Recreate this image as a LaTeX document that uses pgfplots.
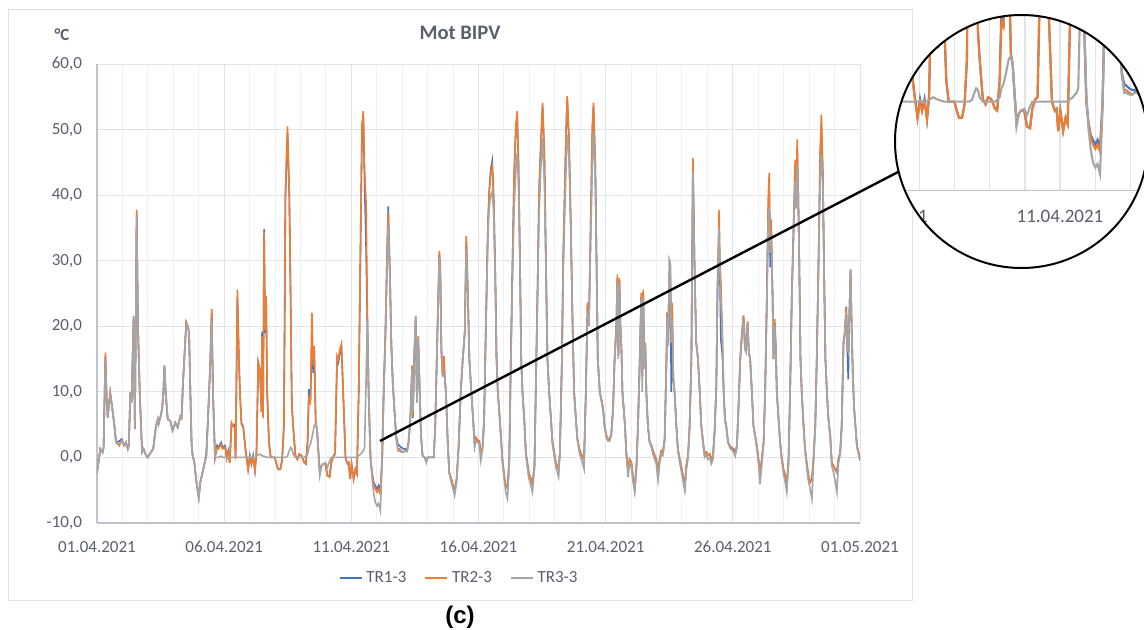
\documentclass[border=0pt]{standalone}
\usepackage{pgfplots}
\pgfplotsset{compat=1.18}
\usepackage{pgfplotstable}
\usepackage{fontspec}
\setmainfont{Carlito}
\newfontfamily\arialfont{Liberation Sans}
\definecolor{tr1}{HTML}{4472C4}
\definecolor{tr2}{HTML}{ED7D31}
\definecolor{tr3}{HTML}{A5A5A5}
\definecolor{txt}{HTML}{595F6B}
\definecolor{gridc}{HTML}{E2E4E9}
\definecolor{gridm}{HTML}{F0F1F4}
\definecolor{axc}{HTML}{BFC4CC}

\pgfplotstableread{
d a b c
0.00 -0.3 -0.3 -0.3
0.03 -1.5 -1.5 -1.5
0.13 1.3 1.3 1.3
0.22 0.8 0.8 0.8
0.26 1.5 1.5 1.5
0.33 15.5 16.0 15.0
0.38 9.0 9.0 9.0
0.42 6.1 6.1 6.1
0.52 9.9 9.9 9.5
0.62 6.9 6.9 6.9
0.68 5.0 5.0 5.0
0.75 2.3 2.3 2.3
0.88 2.5 1.8 2.1
0.97 2.8 2.6 2.5
1.07 1.8 1.8 1.8
1.14 2.3 2.3 2.3
1.21 1.3 1.3 1.3
1.25 1.8 1.8 1.8
1.31 9.9 9.9 9.9
1.36 8.4 8.4 8.4
1.44 21.6 21.0 21.6
1.49 4.3 4.3 4.3
1.56 37.0 37.8 36.8
1.61 20.0 20.0 20.0
1.68 9.9 9.9 9.9
1.77 1.3 0.8 0.8
1.83 1.3 1.3 1.3
1.93 0.3 0.3 0.3
1.99 0.0 0.0 0.0
2.12 0.8 0.8 0.8
2.21 1.3 1.3 1.3
2.32 4.8 4.8 4.8
2.39 5.8 5.8 5.8
2.42 5.1 5.1 5.1
2.49 6.1 6.1 6.1
2.56 7.4 7.4 7.4
2.61 9.9 9.9 9.9
2.65 14.0 14.0 14.0
2.70 9.9 9.9 9.9
2.78 5.8 5.8 5.8
2.88 5.6 5.6 5.6
2.97 4.1 4.1 4.1
3.08 5.3 5.3 5.3
3.17 4.6 4.6 4.6
3.28 6.3 6.3 6.3
3.33 6.5 6.0 6.0
3.38 11.4 11.4 11.4
3.46 17.0 17.0 17.0
3.51 20.6 20.6 20.3
3.57 20.0 20.0 20.0
3.62 19.0 19.0 19.0
3.67 10.0 10.0 10.0
3.72 2.0 2.0 2.0
3.76 0.3 0.3 0.3
3.83 -0.8 -0.8 -0.8
3.91 -3.8 -3.8 -3.8
4.00 -6.1 -6.1 -6.1
4.06 -3.8 -3.8 -3.8
4.15 -2.3 -2.3 -2.3
4.25 -0.5 -0.5 -0.5
4.30 0.8 0.3 0.0
4.38 7.4 7.4 7.4
4.45 14.0 14.0 14.0
4.51 22.0 22.6 20.8
4.56 9.9 9.9 9.9
4.64 0.0 0.0 0.0
4.72 1.8 1.5 0.0
4.77 1.5 1.3 0.0
4.88 2.3 2.0 0.2
4.94 1.5 1.3 0.0
5.03 1.8 1.5 0.0
5.05 1.5 1.3 0.0
5.10 0.0 -0.2 0.0
5.16 1.0 0.8 0.0
5.22 -0.8 -0.8 0.0
5.29 5.1 5.3 0.0
5.35 4.8 4.8 0.0
5.41 5.0 4.6 0.0
5.45 0.0 -0.3 0.0
5.52 24.5 25.6 0.0
5.58 15.0 15.0 0.0
5.62 9.9 9.9 0.0
5.68 5.1 5.3 0.0
5.75 4.6 4.8 0.0
5.84 1.3 1.0 0.0
5.94 -1.8 -1.8 0.0
6.01 0.3 0.0 0.1
6.07 -1.0 -1.0 0.0
6.14 0.3 0.0 0.0
6.21 -2.0 -2.0 0.0
6.27 0.5 0.8 0.2
6.34 14.5 14.5 0.4
6.40 13.5 13.5 0.5
6.47 6.9 6.9 0.3
6.49 19.2 18.5 0.3
6.53 6.3 6.0 0.2
6.57 34.8 34.3 0.2
6.61 19.0 19.5 0.1
6.65 24.0 24.6 0.1
6.69 9.9 10.5 0.0
6.76 2.3 2.5 0.0
6.83 0.0 0.0 0.0
6.99 0.0 0.0 0.0
7.06 -1.0 -1.0 0.0
7.12 -1.8 -1.8 0.0
7.21 -1.8 -1.8 0.0
7.28 -0.3 -0.3 0.0
7.35 4.8 5.0 0.0
7.41 40.0 40.5 0.0
7.49 49.5 50.5 0.2
7.56 40.0 40.5 1.0
7.61 25.0 25.0 1.5
7.66 8.0 8.0 1.3
7.71 4.8 5.0 0.5
7.80 0.3 0.3 0.0
7.88 -0.3 -0.3 0.0
7.95 0.5 0.5 0.0
8.04 0.3 0.3 0.0
8.15 -0.8 -0.8 0.0
8.21 -1.0 -1.0 0.2
8.28 2.3 2.3 0.5
8.33 10.4 9.0 1.5
8.39 8.4 8.4 2.0
8.45 18.0 22.1 3.0
8.50 12.9 14.0 4.0
8.54 16.5 17.0 4.8
8.60 5.1 5.5 5.1
8.65 4.3 4.3 4.3
8.69 1.8 1.8 1.8
8.76 -2.3 -2.3 -2.8
8.83 -1.3 -1.3 -1.3
8.89 -1.0 -1.0 -1.0
8.98 -1.0 -1.0 -0.8
9.06 -2.8 -2.8 -1.5
9.15 -2.8 -3.0 -0.5
9.21 -0.8 -0.8 0.0
9.30 0.3 0.3 0.0
9.36 0.5 0.5 0.0
9.44 15.0 15.5 0.0
9.49 14.5 15.0 0.0
9.55 16.0 16.5 0.0
9.61 17.0 17.3 0.0
9.68 9.9 9.9 0.0
9.77 0.0 0.0 0.0
9.85 -1.0 -1.0 0.0
9.90 -0.8 -0.8 0.0
9.95 -3.3 -3.3 0.0
10.01 -1.0 -1.0 0.0
10.09 -3.3 -3.3 0.0
10.16 -1.8 -1.8 0.0
10.22 -2.5 -2.5 0.0
10.29 9.9 9.9 0.3
10.37 35.0 35.0 0.5
10.42 50.5 50.5 0.8
10.47 52.0 52.8 1.0
10.52 42.0 44.0 1.5
10.58 32.0 38.8 12.0
10.63 20.0 22.0 21.0
10.68 9.9 9.9 10.0
10.75 0.0 0.0 1.0
10.81 -2.3 -2.3 -3.0
10.88 -3.8 -4.1 -5.5
10.94 -4.3 -4.8 -6.8
11.01 -4.8 -5.3 -7.4
11.07 -4.3 -4.8 -7.0
11.14 -5.3 -5.6 -8.1
11.21 -0.3 -0.3 -1.0
11.27 9.9 9.9 9.0
11.34 19.0 19.0 18.0
11.40 30.0 30.0 28.0
11.45 38.3 37.3 35.3
11.52 27.5 27.5 27.0
11.57 17.5 17.5 17.5
11.63 11.4 11.4 11.4
11.70 6.9 6.9 6.9
11.76 3.3 3.3 3.0
11.83 2.0 1.3 1.0
11.89 1.8 1.3 1.0
11.97 1.5 1.0 0.8
12.06 1.3 0.8 0.8
12.12 1.3 1.0 1.0
12.19 1.0 1.0 1.0
12.25 2.3 2.3 2.3
12.32 5.8 5.8 5.8
12.39 14.0 14.0 13.5
12.42 6.0 6.3 7.0
12.48 16.0 16.5 16.0
12.53 21.0 21.6 21.6
12.58 8.4 8.4 8.4
12.63 18.0 18.5 18.0
12.69 9.9 9.9 9.9
12.74 3.3 3.3 3.3
12.80 0.3 0.3 0.3
12.88 0.0 0.0 0.0
12.95 -0.5 -0.5 -0.8
13.00 0.0 0.0 0.0
13.24 0.0 0.0 0.0
13.30 4.8 4.8 4.8
13.36 15.0 15.0 15.0
13.42 24.6 25.1 24.0
13.46 31.0 31.5 30.5
13.50 28.0 28.7 27.5
13.54 16.5 16.5 16.5
13.59 12.4 12.4 12.4
13.64 15.0 15.5 12.5
13.67 12.4 12.4 12.4
13.72 9.9 9.9 9.9
13.79 2.3 2.3 2.3
13.85 -2.3 -2.3 -2.5
13.93 -3.3 -3.3 -3.8
14.00 -4.3 -4.3 -4.8
14.06 -5.0 -5.3 -5.8
14.14 -3.3 -3.3 -3.8
14.22 1.8 1.8 1.8
14.30 9.9 9.9 9.9
14.38 15.0 15.0 15.0
14.46 19.0 19.0 19.0
14.52 33.0 33.8 31.7
14.58 25.1 25.1 25.1
14.64 15.0 15.0 15.0
14.72 9.9 9.9 9.9
14.78 6.3 6.3 6.3
14.85 1.8 1.8 1.8
14.90 3.0 3.0 2.5
14.97 2.6 2.6 2.3
15.03 2.5 2.5 2.0
15.09 0.8 0.8 -0.5
15.16 1.5 1.5 1.2
15.22 5.8 5.8 5.5
15.29 20.1 20.1 19.5
15.37 35.3 35.3 34.0
15.42 40.4 40.4 38.0
15.48 43.9 43.5 40.0
15.54 45.2 44.4 40.6
15.60 39.0 39.0 37.0
15.66 27.7 27.7 27.0
15.71 15.0 15.0 15.0
15.76 9.9 9.9 9.9
15.81 7.4 7.4 7.4
15.88 3.3 3.3 3.0
15.94 -0.3 -0.3 -0.8
16.01 -2.8 -2.8 -3.3
16.07 -4.3 -4.3 -5.3
16.14 -4.6 -4.8 -6.3
16.21 -0.3 -0.3 -1.0
16.27 15.0 15.0 14.0
16.34 30.2 30.2 28.0
16.40 42.9 42.9 38.0
16.47 50.5 50.5 44.0
16.52 52.0 52.8 46.4
16.57 45.0 45.5 42.0
16.63 30.2 30.2 29.0
16.68 15.0 15.0 15.0
16.73 9.9 9.9 9.9
16.80 5.8 5.8 5.8
16.86 0.8 0.8 0.5
16.97 -2.3 -2.3 -3.0
17.06 -3.3 -3.3 -4.3
17.12 -4.1 -4.1 -5.3
17.20 -1.3 -1.3 -1.8
17.25 9.9 9.9 9.5
17.32 25.1 25.1 24.0
17.38 40.4 40.4 37.0
17.45 47.7 47.7 44.0
17.52 53.5 54.1 48.7
17.59 46.0 46.2 42.0
17.65 30.2 30.2 29.0
17.71 15.0 15.0 15.0
17.78 9.9 9.9 9.9
17.84 6.3 6.3 6.3
17.91 2.3 2.3 2.0
18.04 -0.8 -0.8 -1.5
18.15 -1.8 -1.8 -3.0
18.20 0.8 0.8 0.5
18.28 15.0 15.0 14.0
18.33 30.2 30.2 28.0
18.39 40.4 40.4 37.0
18.45 50.5 50.5 45.0
18.49 54.6 55.1 49.2
18.56 48.0 48.5 46.0
18.63 35.3 35.3 34.0
18.70 20.1 20.1 20.1
18.76 9.9 9.9 9.9
18.83 5.8 5.8 5.8
18.89 2.8 2.8 2.5
18.96 1.3 1.3 0.8
19.06 0.3 0.3 -0.5
19.15 -0.3 -0.5 -1.8
19.22 9.9 9.9 9.5
19.26 18.0 18.0 17.0
19.29 23.6 23.6 22.0
19.34 20.1 20.1 20.1
19.41 35.3 35.3 33.0
19.48 50.5 50.5 45.0
19.52 53.5 54.1 49.7
19.59 45.0 45.0 43.0
19.64 30.2 30.2 30.0
19.69 15.0 15.0 15.0
19.77 9.9 9.9 9.9
19.85 8.5 8.5 8.2
19.90 7.4 7.4 7.0
19.96 4.8 4.8 4.5
20.03 3.3 3.3 3.0
20.09 2.8 2.8 2.5
20.16 2.8 2.8 2.5
20.22 3.6 3.6 3.3
20.29 7.4 7.4 7.0
20.35 15.0 15.0 14.5
20.42 20.1 20.1 19.5
20.46 27.4 27.9 27.0
20.50 15.5 15.5 15.0
20.54 27.0 27.4 26.5
20.58 20.1 20.1 20.0
20.62 16.5 16.5 16.5
20.66 9.9 9.9 9.9
20.71 7.4 7.4 7.4
20.76 4.8 4.8 4.8
20.81 0.8 0.8 0.3
20.88 -1.8 -1.8 -3.0
20.94 -0.3 -0.3 -1.0
21.01 -0.8 -0.8 -1.5
21.07 -2.8 -2.8 -3.5
21.14 -4.8 -4.8 -5.3
21.21 -1.3 -1.3 -2.0
21.27 4.8 4.8 4.5
21.34 15.0 15.0 14.5
21.40 24.5 25.1 24.0
21.44 12.4 12.4 10.0
21.48 24.8 25.6 24.5
21.52 13.5 13.5 13.5
21.56 16.5 17.5 17.0
21.60 9.9 9.9 9.9
21.66 4.8 4.8 4.8
21.73 2.3 2.3 2.3
21.80 1.8 1.8 1.5
21.86 1.0 1.0 0.5
21.93 0.3 0.3 -0.3
21.99 -0.3 -0.3 -1.0
22.06 -2.5 -3.0 -3.5
22.12 -0.3 -0.3 -1.0
22.19 1.0 1.0 0.5
22.25 0.8 0.8 0.3
22.32 2.8 2.8 2.5
22.39 15.0 15.0 14.5
22.42 22.1 22.1 21.5
22.46 17.5 17.5 17.0
22.50 28.0 28.0 30.2
22.54 28.5 28.5 29.7
22.58 10.0 17.5 17.5
22.62 20.0 23.6 21.0
22.66 11.9 11.9 11.9
22.71 9.9 9.9 9.9
22.78 4.8 4.8 4.8
22.84 1.3 1.3 1.0
22.91 -0.3 -0.3 -0.8
22.97 -1.3 -1.3 -2.0
23.04 -2.8 -2.8 -3.5
23.11 -4.5 -4.5 -5.1
23.17 -1.3 -1.3 -2.0
23.24 0.3 0.3 0.0
23.30 4.8 4.8 4.5
23.37 15.0 15.0 14.5
23.40 30.0 30.0 29.0
23.43 44.5 45.7 43.6
23.50 27.7 27.7 27.7
23.56 17.5 17.5 17.5
23.63 15.0 15.0 15.0
23.70 9.9 9.9 9.9
23.76 4.8 4.8 4.8
23.83 2.3 2.3 2.0
23.89 0.5 0.5 0.0
23.96 0.8 0.8 0.3
24.02 0.3 0.3 -0.3
24.09 0.5 0.5 0.0
24.15 -0.3 -0.3 -1.0
24.22 0.3 0.3 -0.3
24.28 3.8 3.8 3.5
24.35 10.7 10.7 10.5
24.40 26.0 27.2 26.5
24.46 33.0 37.8 35.0
24.49 28.0 30.2 29.0
24.53 18.0 26.7 24.0
24.59 15.5 18.5 18.0
24.64 9.9 9.9 9.9
24.69 5.8 5.8 5.8
24.74 4.8 4.8 4.8
24.81 2.3 2.3 2.3
24.88 1.8 1.8 1.5
24.94 1.5 1.5 1.2
25.03 1.3 1.0 0.8
25.09 0.5 0.5 0.2
25.16 1.8 1.8 1.5
25.22 7.4 7.4 7.0
25.29 15.0 15.0 14.5
25.35 18.5 18.5 18.0
25.42 21.6 21.6 21.0
25.47 18.0 18.0 16.5
25.52 16.5 16.5 16.0
25.58 20.5 20.8 20.5
25.63 16.0 16.0 16.0
25.68 15.0 15.0 15.0
25.75 9.9 9.9 9.9
25.81 4.8 4.8 4.8
25.88 3.3 3.3 3.0
25.94 1.8 1.8 1.5
26.01 -0.3 -0.3 -1.0
26.07 -2.3 -2.3 -4.1
26.14 -0.3 -0.3 -1.0
26.21 2.3 2.3 2.0
26.27 9.9 9.9 9.5
26.34 25.1 25.1 24.0
26.39 37.5 39.3 36.0
26.43 40.0 43.4 38.0
26.47 29.0 31.2 31.2
26.51 33.0 36.3 33.5
26.56 25.1 25.1 25.1
26.60 15.0 15.0 15.0
26.65 20.0 21.1 20.0
26.69 16.5 16.5 16.5
26.73 9.9 9.9 9.9
26.80 5.8 5.8 5.8
26.86 2.3 2.3 2.0
26.93 -0.3 -0.3 -0.8
26.99 -1.8 -1.8 -2.5
27.06 -2.8 -2.8 -3.8
27.12 -4.3 -4.3 -5.3
27.19 -0.3 -0.3 -1.0
27.25 9.9 9.9 9.5
27.32 25.1 25.1 24.0
27.39 35.3 35.3 34.0
27.45 44.0 45.4 42.0
27.49 38.0 39.3 38.0
27.53 47.0 48.5 44.5
27.57 40.4 40.4 40.0
27.61 30.2 30.2 30.2
27.66 15.0 15.0 15.0
27.71 9.9 9.9 9.9
27.78 4.8 4.8 4.8
27.84 1.3 1.3 1.0
27.91 -1.0 -1.0 -1.8
27.97 -2.8 -2.8 -3.5
28.04 -3.8 -3.8 -4.8
28.11 -3.3 -3.3 -6.3
28.17 -0.3 -0.3 -1.0
28.24 4.8 4.8 4.5
28.30 15.0 15.0 14.5
28.37 30.2 30.2 29.0
28.43 45.4 45.4 42.0
28.48 51.0 52.3 46.2
28.54 42.9 42.9 41.0
28.59 27.7 27.7 27.7
28.64 15.0 15.0 15.0
28.70 9.9 9.9 9.9
28.76 5.8 5.8 5.8
28.83 3.3 3.3 3.0
28.89 -0.8 -0.8 -1.3
28.96 -1.3 -1.3 -2.3
29.02 -1.8 -1.8 -3.5
29.09 -2.3 -2.3 -5.3
29.15 -0.3 -0.3 -1.0
29.22 0.8 0.8 0.5
29.28 4.8 4.8 4.5
29.35 17.5 17.5 17.0
29.40 19.0 19.0 18.5
29.46 23.0 22.8 22.0
29.50 16.5 16.5 16.5
29.54 11.9 17.0 16.0
29.57 20.1 20.1 20.1
29.63 28.5 28.7 28.7
29.67 20.1 20.1 20.1
29.72 12.4 12.4 12.4
29.77 7.4 7.4 7.4
29.82 4.8 4.8 4.8
29.88 1.8 1.8 1.5
29.94 0.8 0.8 0.5
30.00 -0.3 -0.3 -0.5
}\datatable

\begin{document}
\begin{tikzpicture}
\useasboundingbox (0pt,0pt) rectangle (572pt,-315pt);
\draw[color=gray!22, line width=0.5pt] (4pt,-5pt) rectangle (456pt,-300pt);
\node[font=\bfseries\fontsize{10.3}{12}\selectfont, text=txt] at (230pt,-16.5pt) {Mot BIPV};
\node[font=\bfseries\fontsize{8.5}{10}\selectfont, text=txt] at (31pt,-17.5pt) {°C};
\begin{axis}[
  scale only axis, width=381.5pt, height=229.5pt,
  at={(48.5pt,-261.5pt)}, anchor=south west,
  xmin=0, xmax=30, ymin=-10, ymax=60,
  xtick={0,5,10,15,20,25,30},
  xticklabels={01.04.2021,06.04.2021,11.04.2021,16.04.2021,21.04.2021,26.04.2021,01.05.2021},
  minor xtick={1,2,3,4,6,7,8,9,11,12,13,14,16,17,18,19,21,22,23,24,26,27,28,29},
  ytick={-10,0,10,20,30,40,50,60},
  xmajorgrids, ymajorgrids, xminorgrids,
  major grid style={gridc, line width=0.5pt},
  minor grid style={gridm, line width=0.5pt},
  axis lines*=left,
  axis line style={axc, line width=0.6pt},
  major tick length=0pt, minor tick length=0pt,
  tick label style={font=\fontsize{8.5}{10}\selectfont, text=txt},
  xticklabel style={yshift=-5.5pt},
  yticklabel style={xshift=-4pt},
  legend columns=3,
  legend style={draw=none, fill=none, at={(0.476,-0.12)}, anchor=center,
    font=\fontsize{8.5}{10}\selectfont, text=txt,
    /tikz/every even column/.append style={column sep=7pt}},
  legend image code/.code={\draw[#1] (0pt,0pt) -- (11pt,0pt);},
  /pgf/number format/fixed, /pgf/number format/fixed zerofill,
  /pgf/number format/precision=1, /pgf/number format/use comma,
  /pgf/number format/assume math mode=true,
]
\addplot[tr1, line width=0.8pt] table[x=d,y=a]{\datatable};
\addlegendentry{TR1-3}
\addplot[tr2, line width=0.8pt] table[x=d,y=b]{\datatable};
\addlegendentry{TR2-3}
\addplot[tr3, line width=0.8pt] table[x=d,y=c]{\datatable};
\addlegendentry{TR3-3}
\end{axis}
\draw[black, line width=1.2pt] (190pt,-220.5pt) -- (450pt,-85.5pt);
\fill[white] (510.75pt,-70.75pt) circle (63.25pt);
\begin{scope}
\clip (510.75pt,-70.75pt) circle (63.25pt);
\begin{axis}[
  scale only axis, width=140.4pt, height=133.5pt,
  at={(442.25pt,-95.35pt)}, anchor=south west,
  xmin=5, xmax=13, ymin=-10, ymax=20,
  xtick={5,6,7,8,9,10,11,12,13},
  xticklabels={06.04.2021,,,,,11.04.2021,,,},
  ytick={0}, yticklabels={},
  xmajorgrids, ymajorgrids,
  major grid style={gridc, line width=0.6pt},
  axis x line*=bottom, axis y line=none,
  axis line style={axc, line width=0.8pt},
  major tick length=0pt,
  xticklabel style={font=\fontsize{9.5}{11}\selectfont, text=txt, yshift=-6pt},
]
\addplot[tr1, line width=1.05pt] table[x=d,y=a]{\datatable};
\addplot[tr2, line width=1.05pt] table[x=d,y=b]{\datatable};
\addplot[tr3, line width=1.05pt] table[x=d,y=c]{\datatable};
\end{axis}
\end{scope}
\draw[black, line width=1pt] (510.75pt,-70.75pt) circle (63.25pt);
\node[font=\arialfont\bfseries\fontsize{12}{14}\selectfont] at (230pt,-308.5pt) {(c)};
\end{tikzpicture}
\end{document}
